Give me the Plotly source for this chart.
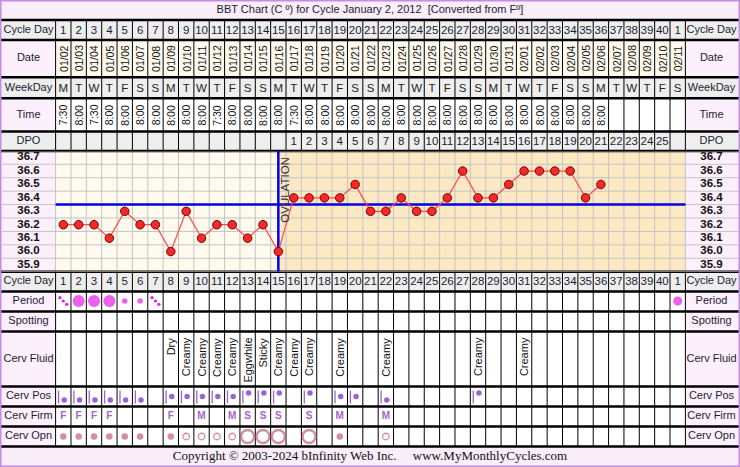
import plotly.graph_objects as go

# ---- chart data ----
cycle_days = ["1", "2", "3", "4", "5", "6", "7", "8", "9", "10", "11", "12", "13", "14",
              "15", "16", "17", "18", "19", "20", "21", "22", "23", "24", "25", "26", "27",
              "28", "29", "30", "31", "32", "33", "34", "35", "36", "37", "38", "39", "40", "1"]
dates = ["01/02", "01/03", "01/04", "01/05", "01/06", "01/07", "01/08", "01/09", "01/10",
         "01/11", "01/12", "01/13", "01/14", "01/15", "01/16", "01/17", "01/18", "01/19",
         "01/20", "01/21", "01/22", "01/23", "01/24", "01/25", "01/26", "01/27", "01/28",
         "01/29", "01/30", "01/31", "02/01", "02/02", "02/03", "02/04", "02/05", "02/06",
         "02/07", "02/08", "02/09", "02/10", "02/11"]
weekdays = ["M", "T", "W", "T", "F", "S", "S", "M", "T", "W", "T", "F", "S", "S", "M", "T",
            "W", "T", "F", "S", "S", "M", "T", "W", "T", "F", "S", "S", "M", "T", "W", "T",
            "F", "S", "S", "M", "T", "W", "T", "F", "S"]
times = ["7:30", "8:00", "7:30", "8:00", "8:00", "8:00", "8:00", "8:00", "8:00", "8:00",
         "7:30", "8:00", "8:00", "8:00", "8:00", "7:30", "8:00", "8:00", "8:00", "8:00",
         "8:00", "8:00", "8:00", "8:00", "8:00", "8:00", "8:00", "8:00", "8:00", "8:00",
         "8:00", "8:00", "8:00", "8:00", "8:00", "8:00", "", "", "", "", ""]
dpo = ["", "", "", "", "", "", "", "", "", "", "", "", "", "", "", "1", "2", "3", "4", "5",
       "6", "7", "8", "9", "10", "11", "12", "13", "14", "15", "16", "17", "18", "19", "20",
       "21", "22", "23", "24", "25", ""]
temps = [36.2, 36.2, 36.2, 36.1, 36.3, 36.2, 36.2, 36.0, 36.3, 36.1, 36.2, 36.2, 36.1, 36.2,
         36.0, 36.4, 36.4, 36.4, 36.4, 36.5, 36.3, 36.3, 36.4, 36.3, 36.3, 36.4, 36.6, 36.4,
         36.4, 36.5, 36.6, 36.6, 36.6, 36.6, 36.4, 36.5]
temp_labels = ["36.7", "36.6", "36.5", "36.4", "36.3", "36.2", "36.1", "36.0", "35.9"]
coverline = 36.35
ovulation_day = 15

period_days = [1, 2, 3, 4, 5, 6, 7, 41]
period_flow = ["spot", "heavy", "heavy", "heavy", "light", "light", "spot", "medium"]

fluid_days = [8, 9, 10, 11, 12, 13, 14, 15, 16, 17, 19, 22, 28, 31]
fluid = ["Dry", "Creamy", "Creamy", "Creamy", "Creamy", "Eggwhite", "Sticky", "Creamy",
         "Creamy", "Creamy", "Creamy", "Creamy", "Creamy", "Creamy"]

pos_days = [1, 2, 3, 4, 5, 6, 8, 9, 10, 11, 12, 13, 14, 15, 17, 19, 20, 22, 28]
pos = ["low", "low", "low", "low", "low", "low", "med", "med", "med", "med", "med",
       "high", "high", "high", "high", "med", "med", "low", "high"]

firm_days = [1, 2, 3, 4, 8, 10, 12, 13, 14, 15, 17, 19, 22]
firm = ["F", "F", "F", "F", "F", "M", "M", "S", "S", "S", "S", "M", "M"]

opn_days = [1, 2, 3, 4, 5, 6, 8, 9, 10, 11, 12, 13, 14, 15, 17, 19, 22]
opn = ["closed", "closed", "closed", "closed", "closed", "closed", "closed", "med", "med",
       "med", "med", "open", "open", "open", "open", "closed", "med"]

title = "BBT Chart (C º) for Cycle January 2, 2012\u00a0\u00a0[Converted from Fº]"
footer = ("Copyright © 2003-2024 bInfinity Web Inc.\u00a0\u00a0\u00a0\u00a0\u00a0"
          "www.MyMonthlyCycles.com")

# ---- layout helpers (pixel geometry of the table) ----
W, H = 740, 467
PXU = 15.36               # pixels per day column
X0 = 1 - 63.3 / PXU       # x value at the left edge of the page
def px(p):
    return X0 + p / PXU

ndays = len(cycle_days)
days = list(range(1, ndays + 1))
LEFT, RIGHT = px(55.6), px(685.4)
LCX, RCX = px(28.5), px(711.5)
CH_TOP, CH_BOT = 150.9, 271.7   # chart area in px from top

rows = {  # name: (top, bottom) in px
    "title": (0, 20), "cd": (20, 40), "date": (40, 77.3), "wd": (77.3, 98.3),
    "time": (98.3, 131.5), "dpo": (131.5, CH_TOP), "cd2": (CH_BOT, 291.5),
    "period": (291.5, 311.5), "spot": (311.5, 331.5), "fluid": (331.5, 386.5),
    "pos": (386.5, 406.5), "firm": (406.5, 426.5), "opn": (426.5, 446.5),
    "foot": (446.5, H),
}
def mid(r):
    return (rows[r][0] + rows[r][1]) / 2

FONT = "Liberation Sans, Arial, sans-serif"
INK = "#1c1c30"
PINK = "#fdf0fd"
GRAY = "#eeeeee"

fig = go.Figure()
shapes = []
def rect(x0, x1, y0, y1, color, yref="y"):
    shapes.append(dict(type="rect", xref="x", yref=yref, x0=x0, x1=x1, y0=y0, y1=y1,
                       fillcolor=color, line=dict(width=0), layer="below"))

# page and band backgrounds
rect(px(0), px(W), 0, H, "white")
rect(px(0), px(W), *rows["title"], "#f9eef9")
rect(px(0), px(W), *rows["foot"], "#f9eef9")
for r, c in [("cd", GRAY), ("wd", GRAY), ("dpo", GRAY), ("cd2", GRAY), ("date", "#fffaee")]:
    rect(LEFT, RIGHT, *rows[r], c)
for x0, x1 in [(px(0), LEFT), (RIGHT, px(W))]:
    for r in ["date", "time", "period", "spot", "fluid", "pos", "firm", "opn"]:
        rect(x0, x1, *rows[r], PINK)
    for r in ["cd", "wd", "dpo", "cd2"]:
        rect(x0, x1, *rows[r], GRAY)
    rect(x0, x1, CH_TOP, CH_BOT, PINK)
# chart area: pre / post ovulation
rect(LEFT, ovulation_day, CH_TOP, CH_BOT, "#fffaee")
rect(ovulation_day, RIGHT, CH_TOP, CH_BOT, "#fde8c4")

# purple page border
shapes.append(dict(type="rect", xref="paper", yref="paper", x0=0, x1=1, y0=0, y1=1,
                   line=dict(color="#c58be6", width=3), layer="above"))

def seg_trace(xs, ys, color, width, yaxis="y"):
    fig.add_trace(go.Scatter(x=xs, y=ys, mode="lines", yaxis=yaxis, hoverinfo="skip",
                             line=dict(color=color, width=width), showlegend=False))

bounds = [LEFT] + [d + 0.5 for d in days]
# gray grid inside chart area (vertical)
gx, gy = [], []
for b in bounds:
    gx += [b, b, None]
    gy += [CH_TOP, CH_BOT, None]
seg_trace(gx, gy, "#c4c4c4", 1)
# gray horizontal grid across chart rows
hx, hy = [], []
for k in range(len(temp_labels) + 1):
    t = 35.85 + 0.1 * k
    hx += [px(2), px(W - 2), None]
    hy += [t, t, None]
seg_trace(hx, hy, "#c4c4c4", 1, "y2")

# black column lines in the table parts
vx, vy = [], []
for b in bounds:
    for y0, y1 in [(20, CH_TOP), (CH_BOT, 446.5)]:
        vx += [b, b, None]
        vy += [y0, y1, None]
seg_trace(vx, vy, "#000000", 1)
# thick row separators
sx, sy = [], []
for r in ["cd", "date", "wd", "time", "dpo", "period", "spot", "fluid", "pos", "firm", "opn"]:
    sx += [px(0), px(W), None]
    sy += [rows[r][0], rows[r][0], None]
for yb in [CH_TOP, CH_BOT, 446.5]:
    sx += [px(0), px(W), None]
    sy += [yb, yb, None]
seg_trace(sx, sy, "#000000", 2.5)

def text_trace(xs, ys, texts, size=11, color=INK, bold=False, family=FONT):
    fig.add_trace(go.Scatter(x=xs, y=ys, mode="text", text=texts, hoverinfo="skip",
                             textposition="middle center", showlegend=False,
                             textfont=dict(size=size, color=color, family=family,
                                           weight="bold" if bold else "normal")))

# row labels on both sides
labels = [("cd", "Cycle Day"), ("date", "Date"), ("wd", "WeekDay"), ("time", "Time"),
          ("dpo", "DPO"), ("cd2", "Cycle Day"), ("period", "Period"), ("spot", "Spotting"),
          ("fluid", "Cerv Fluid"), ("pos", "Cerv Pos"), ("firm", "Cerv Firm"),
          ("opn", "Cerv Opn")]
text_trace([LCX] * len(labels), [mid(r) for r, _ in labels], [t for _, t in labels], 11)
text_trace([RCX] * len(labels), [mid(r) for r, _ in labels], [t for _, t in labels], 11)

# header rows
text_trace(days, [mid("cd") + 1] * ndays, cycle_days, 11.5)
text_trace(days, [mid("cd2") + 1] * ndays, cycle_days, 11.5)
text_trace(days, [mid("wd") + 1] * ndays, weekdays, 11.5, "#222222")
text_trace(days, [mid("dpo") + 1] * ndays, dpo, 11.5)
text_trace([px(W / 2)], [mid("title")], [title], 11)
text_trace([px(W / 2)], [mid("foot")], [footer], 13, "#111111",
           family="Liberation Serif, Times New Roman, serif")

annotations = []
def vtext(x, y, s, size, yanchor="middle", angle=-90, color="#111111", yref="y"):
    annotations.append(dict(x=x, y=y, xref="x", yref=yref, text=s, showarrow=False,
                            textangle=angle, yanchor=yanchor, xanchor="center",
                            font=dict(size=size, color=color, family=FONT)))
for d, s in zip(days, dates):
    vtext(d, mid("date"), s, 10.5)
for d, s in zip(days, times):
    if s:
        vtext(d, mid("time"), s, 10.5)
for d, s in zip(fluid_days, fluid):
    vtext(d, rows["fluid"][0] + 4, s, 11, yanchor="top")

# temperature labels in the side cells
temp_vals = [float(t) for t in temp_labels]
fig.add_trace(go.Scatter(x=[LCX] * len(temp_vals), y=temp_vals, yaxis="y2", mode="text",
                         text=temp_labels, hoverinfo="skip", showlegend=False,
                         textfont=dict(size=11.5, color="#111111", family=FONT, weight="bold")))
fig.add_trace(go.Scatter(x=[RCX] * len(temp_vals), y=temp_vals, yaxis="y2", mode="text",
                         text=temp_labels, hoverinfo="skip", showlegend=False,
                         textfont=dict(size=11.5, color="#111111", family=FONT, weight="bold")))

# coverline and ovulation line
seg_trace([LEFT, RIGHT], [coverline, coverline], "#0000e6", 2.5, "y2")
seg_trace([ovulation_day, ovulation_day], [35.85, 36.75], "#0000e6", 2.5, "y2")
vtext(ovulation_day + 0.42, 36.75 - 0.03, "OVULATION", 11.5, yanchor="top", color="#333333",
      yref="y2")

# temperatures
fig.add_trace(go.Scatter(x=days[:len(temps)], y=temps, yaxis="y2", mode="lines+markers",
                         hoverinfo="skip", showlegend=False,
                         line=dict(color="#ff4a4a", width=1.2),
                         marker=dict(size=8.5, color="#f22a2a",
                                     line=dict(color="#7a0000", width=1))))

# period
MAG = "#e31ee3"
big = {"heavy": 12, "medium": 9, "light": 5.5}
pdx = [d for d, f in zip(period_days, period_flow) if f != "spot"]
fig.add_trace(go.Scatter(x=pdx, y=[mid("period") - 0.5] * len(pdx), mode="markers",
                         hoverinfo="skip", showlegend=False,
                         marker=dict(size=[big[f] for f in period_flow if f != "spot"],
                                     color=MAG, line=dict(width=0))))
sx, sy = [], []
for d, f in zip(period_days, period_flow):
    if f == "spot":
        for k in (-1, 0, 1):
            sx.append(d + k * 0.22)
            sy.append(mid("period") - 0.5 + k * 3.3)
fig.add_trace(go.Scatter(x=sx, y=sy, mode="markers", hoverinfo="skip", showlegend=False,
                         marker=dict(size=3.2, color=MAG, line=dict(width=0))))

# cervical position: bar at left of cell plus dot at the level
PURP = "#9b63d3"
level = {"low": 400, "med": 396.5, "high": 393}
bx, by = [], []
for d in pos_days:
    bx += [d - 0.31, d - 0.31, None]
    by += [390.5, 403.5, None]
seg_trace(bx, by, PURP, 1.3)
fig.add_trace(go.Scatter(x=[d + 0.06 for d in pos_days], y=[level[p] for p in pos],
                         mode="markers", hoverinfo="skip", showlegend=False,
                         marker=dict(size=5.5, color=PURP, line=dict(width=0))))

# cervical firmness
text_trace(firm_days, [mid("firm")] * len(firm_days), firm, 10, "#a663c9", bold=True)

# cervical opening
MAUVE = "#c0607e"
osize = {"closed": 6.5, "med": 6.5, "open": 13}
ofill = {"closed": MAUVE, "med": "white", "open": "white"}
owid = {"closed": 0, "med": 1.3, "open": 2.4}
fig.add_trace(go.Scatter(x=opn_days, y=[mid("opn")] * len(opn_days), mode="markers",
                         hoverinfo="skip", showlegend=False,
                         marker=dict(size=[osize[o] for o in opn],
                                     color=[ofill[o] for o in opn],
                                     line=dict(color=MAUVE, width=[owid[o] for o in opn]))))

fig.update_layout(
    width=W, height=H, margin=dict(l=0, r=0, t=0, b=0),
    paper_bgcolor="white", plot_bgcolor="rgba(0,0,0,0)",
    hovermode=False, showlegend=False,
    xaxis=dict(range=[px(0), px(W)], visible=False, fixedrange=True),
    yaxis=dict(range=[H, 0], domain=[0, 1], visible=False, fixedrange=True),
    yaxis2=dict(range=[35.85, 36.75], domain=[1 - CH_BOT / H, 1 - CH_TOP / H],
                anchor="x", visible=False, fixedrange=True),
    shapes=shapes, annotations=annotations,
)

# the page body has a default 8px margin; drop it so the table fills the window
fig.write_html("out.html", config={"displayModeBar": False},
               post_script="document.body.style.margin='0';document.body.style.overflow='hidden';")
